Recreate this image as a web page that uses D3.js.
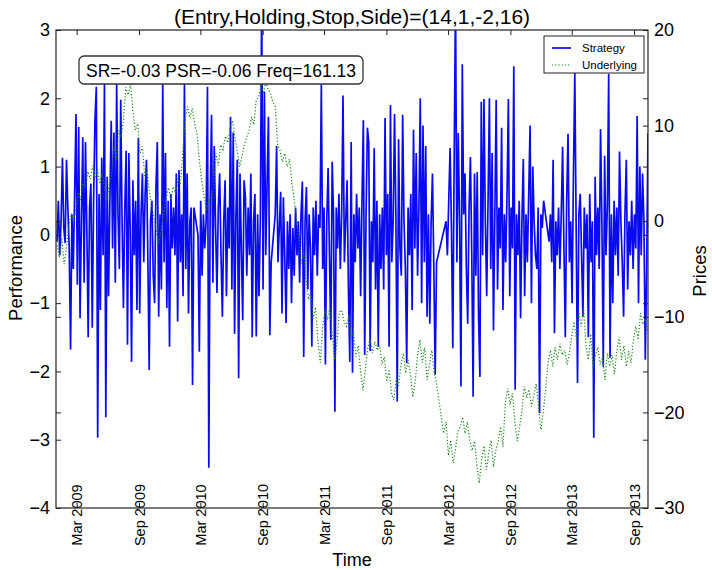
<!DOCTYPE html>
<html><head><meta charset="utf-8">
<script src="https://cdn.jsdelivr.net/npm/d3@7"></script>
<style>
body{margin:0;background:#fff;}
svg{display:block;}
text{font-family:"Liberation Sans",Arial,Helvetica,sans-serif;fill:#000;}
</style>
</head><body>
<svg id="c" width="712" height="570"></svg>
<script>
const title = "(Entry,Holding,Stop,Side)=(14,1,-2,16)";
const annotation = "SR=-0.03 PSR=-0.06 Freq=161.13";
const seriesNames = ["Strategy", "Underlying"];
const xLabel = "Time", yLeftLabel = "Performance", yRightLabel = "Prices";
const xDomain = ["2008-12-30", "2013-10-12"];
const xTickMonths = ["2009-03-01","2009-09-01","2010-03-01","2010-09-01","2011-03-01","2011-09-01","2012-03-01","2012-09-01","2013-03-01","2013-09-01"];
const leftDomain = [-4, 3];
const leftTicks = [-4, -3, -2, -1, 0, 1, 2, 3];
const rightDomain = [-30, 20];
const rightTicks = [-30, -20, -10, 0, 10, 20];

// Strategy performance, one observation every 4 days (null = no observation)
const strategyStart = "2009-01-02", strategyStepDays = 4;
const strategyValues = [
-0.1,0.5,-0.3,0.2,1.13,0.1,-0.12,1.1,0.4,-0.2,
-1.68,0.3,-0.5,0.6,1.77,-0.73,1.58,-1.22,0.2,1.43,
-0.7,1.36,0.1,-1.5,0.4,0.75,-1.36,0.5,1.68,2.17,
-2.97,0.6,-1.1,1.13,-0.3,2.22,-2.67,0.85,-0.9,0.5,
1.67,-0.2,1.5,-0.7,2.22,0.3,-0.5,1.98,0.2,-1.07,
0.4,1.23,-1.61,1.2,0.1,-1.86,0.8,-0.3,0.5,-1.1,
1.42,-1.15,0.3,0.9,-0.4,0.6,1.1,-0.3,-1.98,0.2,
0.5,-0.6,-1.0,0.7,1.36,-1.2,0.3,-0.8,2.22,-0.4,
1.2,-1.07,0.5,-1.64,0.6,-0.2,0.4,-0.3,0.9,-1.27,
0.95,-0.4,0.3,-0.9,2.22,-0.5,0.9,-1.15,0.2,0.4,
-2.2,0.4,null,null,0.0,-1.71,0.5,-0.6,0.3,-0.2,
0.2,2.17,-3.41,0.5,1.76,-0.7,1.3,0.1,-0.85,0.4,
0.9,-0.3,-1.2,0.2,0.8,-0.9,0.4,-0.2,1.73,-0.8,
1.5,-1.45,0.3,1.1,-2.1,0.9,-0.2,-1.25,0.8,0.55,
-0.6,0.4,-0.3,0.9,-1.5,0.2,0.6,-1.49,0.3,-0.9,
0.2,3.5,-0.8,2.1,-0.3,0.8,1.73,-1.47,-0.4,null,
null,0.3,1.3,-0.4,0.1,0.63,-1.15,0.55,-0.3,-1.29,
0.2,-0.5,0.3,-1.0,0.1,-0.6,0.4,-0.3,0.2,-0.7,
0.3,0.78,-1.79,0.2,0.7,-0.8,0.3,-0.2,-1.64,0.4,
-0.3,0.5,-0.6,0.3,0.1,2.2,-0.5,0.4,-1.9,0.2,
0.98,-0.3,-1.54,1.07,0.3,-2.59,0.4,-0.2,0.6,-0.5,
0.3,2.04,-0.4,0.2,0.8,-0.8,-1.86,1.36,-2.02,0.3,
-0.4,0.6,-0.2,0.4,-0.9,0.5,1.68,-1.76,0.3,1.57,
1.35,-1.7,0.2,-0.4,1.27,-0.8,0.5,-1.64,0.3,-0.5,
0.4,-0.8,1.71,-0.3,0.6,-1.64,1.9,-0.4,0.2,1.77,
0.3,-2.44,1.4,-0.2,-0.6,1.76,0.2,-0.5,-1.88,0.4,
-0.3,0.6,-1.1,1.54,-0.2,1.2,-0.6,0.4,2.0,-1.0,
1.6,-0.4,1.3,-1.2,0.3,-1.3,0.2,0.9,-0.5,-2.05,
-0.4,null,null,null,null,null,null,0.2,-0.3,0.5,
1.27,0.1,-1.66,1.1,3.5,-0.4,1.49,0.2,-2.22,2.5,
0.3,0.9,-0.5,-1.3,0.4,1.14,-0.3,-2.37,0.9,-0.6,
0.92,-1.2,-2.08,1.95,-0.3,1.99,0.2,-0.9,0.5,2.0,
-0.5,1.2,-1.4,0.3,1.98,-0.8,0.4,-0.2,1.57,-1.1,
0.3,-0.4,0.6,1.99,-0.9,0.4,-0.2,2.47,-2.27,0.3,
-0.3,0.5,-1.22,0.2,1.11,-0.9,0.3,-0.4,0.6,1.6,
-1.0,1.0,0.2,-0.3,-0.5,0.4,-2.61,0.3,0.1,0.5,
null,null,null,-0.1,0.3,-0.4,1.1,-1.44,0.2,-0.3,
0.4,-0.5,0.3,1.29,-0.2,-1.5,0.5,1.48,-0.4,0.2,
-1.0,0.9,2.37,0.1,-2.17,0.3,0.6,-0.3,-1.2,0.4,
-0.2,0.3,-1.5,0.6,-0.4,0.2,-2.97,0.85,-0.3,0.4,
-0.5,1.55,0.2,-1.93,1.16,-0.3,0.4,2.36,-1.8,0.3,
-1.0,0.5,-0.3,0.4,-0.6,1.22,0.2,-0.4,-1.2,0.3,
1.1,-0.8,0.2,-0.3,0.5,-0.5,0.3,-0.2,1.74,-1.0,
1.0,-0.3,0.9,0.2,-1.83,-0.5,1.49
];

// Underlying prices, one observation every 7 days
const underlyingStart = "2009-01-02", underlyingStepDays = 7;
const underlyingValues = [
-2.5,-3.8,-1.8,-4.5,-2.6,-0.5,0.8,-0.2,1.5,3.0,
2.2,4.0,3.5,5.2,4.4,5.8,4.6,5.5,3.9,5.0,
3.5,2.2,3.8,4.8,7.8,6.5,9.5,8.8,10.6,14.0,
13.2,14.3,11.5,9.5,10.2,7.1,7.8,4.6,5.3,2.9,
1.5,0.2,-1.2,-2.3,-0.6,0.8,2.4,3.5,2.2,3.6,
2.8,4.5,3.8,7.2,10.6,12.0,10.8,11.8,10.2,9.2,
6.4,4.3,2.5,1.2,2.2,1.5,3.5,7.1,5.8,8.0,
7.5,8.9,8.2,9.8,10.5,8.8,7.3,5.7,6.8,8.0,
8.8,9.5,10.9,10.1,12.7,13.0,14.1,13.5,14.5,13.8,
13.4,12.5,12.0,8.0,7.4,6.2,7.1,5.7,6.5,4.0,
2.2,0.3,-2.0,-4.4,-3.2,-6.0,-8.2,-7.5,-10.2,-9.0,
-12.5,-14.8,-11.0,-9.2,-10.3,-9.0,-11.8,-14.5,-12.8,-9.5,
-9.3,-10.5,-11.0,-9.8,-12.2,-11.7,-14.2,-13.0,-15.8,-17.7,
-15.5,-13.2,-12.4,-13.8,-12.6,-13.5,-13.0,-15.0,-14.2,-16.8,
-15.5,-18.0,-18.7,-16.5,-17.2,-15.0,-13.8,-15.9,-14.5,-16.0,
-18.4,-16.8,-14.0,-12.4,-14.8,-13.2,-16.6,-15.0,-13.5,-15.9,
-17.0,-18.7,-20.5,-22.2,-21.0,-24.5,-22.9,-25.3,-23.8,-22.0,
-21.5,-20.5,-22.2,-21.0,-22.9,-24.0,-23.0,-25.5,-27.4,-25.0,
-23.5,-26.0,-24.2,-22.9,-25.7,-24.0,-23.0,-21.5,-23.6,-19.0,
-17.5,-19.2,-18.0,-21.0,-23.0,-21.5,-19.8,-17.3,-18.5,-17.6,
-19.4,-18.2,-17.0,-19.5,-21.8,-20.0,-17.5,-14.8,-13.5,-15.2,
-13.2,-14.5,-12.8,-14.0,-13.5,-15.0,-13.8,-12.0,-10.5,-12.5,
-9.5,-11.0,-9.0,-13.0,-14.5,-11.8,-15.5,-14.0,-13.2,-15.0,
-14.2,-16.6,-13.8,-15.2,-14.0,-16.0,-13.5,-12.1,-14.5,-13.0,
-15.2,-13.6,-14.8,-12.4,-11.0,-12.4,-9.6,-10.8,-10.2,-11.5
];

const colors = {strategy: "#0a0af0", underlying: "#1a8a1a"};

const svg = d3.select("#c");
const L = 56, R = 648, T = 30, B = 508;
const parse = s => new Date(s + "T00:00:00Z");

const x = d3.scaleUtc().domain(xDomain.map(parse)).range([L, R]);
const yL = d3.scaleLinear().domain(leftDomain).range([B, T]);
const yR = d3.scaleLinear().domain(rightDomain).range([B, T]);

const sStart = parse(strategyStart), uStart = parse(underlyingStart);
const strategy = strategyValues.map((v, i) => ({date: d3.utcDay.offset(sStart, i * strategyStepDays), v}))
  .filter(d => d.v !== null);
const underlying = underlyingValues.map((v, i) => ({date: d3.utcDay.offset(uStart, i * underlyingStepDays), v}));

svg.append("defs").append("clipPath").attr("id", "clip")
  .append("rect").attr("x", L).attr("y", T).attr("width", R - L).attr("height", B - T);

const plot = svg.append("g").attr("clip-path", "url(#clip)");
plot.append("path").datum(strategy)
  .attr("fill", "none").attr("stroke", colors.strategy).attr("stroke-width", 1.7)
  .attr("stroke-linejoin", "miter")
  .attr("d", d3.line().x(d => x(d.date)).y(d => yL(d.v)));
plot.append("path").datum(underlying)
  .attr("fill", "none").attr("stroke", colors.underlying).attr("stroke-width", 1.2)
  .attr("stroke-dasharray", "1.2,2")
  .attr("d", d3.line().x(d => x(d.date)).y(d => yR(d.v)));

const fontSize = 18;
function styleAxis(g) {
  g.attr("font-family", null).attr("font-size", null);
  g.select(".domain").remove();
  g.selectAll(".tick line").attr("stroke", "#222").attr("stroke-width", 1);
  g.selectAll("text").style("font-size", fontSize + "px");
}
const intFmt = d3.format("d");
const xTicks = xTickMonths.map(parse);
// left axis with labels + mirrored right-axis ticks on the left
svg.append("g").attr("transform", `translate(${L},0)`)
  .call(d3.axisLeft(yL).tickValues(leftTicks).tickFormat(intFmt).tickSize(-5).tickPadding(6)).call(styleAxis);
svg.append("g").attr("transform", `translate(${L},0)`)
  .call(d3.axisLeft(yR).tickValues(rightTicks).tickSize(-5).tickFormat(""))
  .call(styleAxis);
// right axis with labels + mirrored left ticks
svg.append("g").attr("transform", `translate(${R},0)`)
  .call(d3.axisRight(yR).tickValues(rightTicks).tickFormat(intFmt).tickSize(-5).tickPadding(6)).call(styleAxis);
svg.append("g").attr("transform", `translate(${R},0)`)
  .call(d3.axisRight(yL).tickValues(leftTicks).tickSize(-5).tickFormat(""))
  .call(styleAxis);
// top ticks
svg.append("g").attr("transform", `translate(0,${T})`)
  .call(d3.axisTop(x).tickValues(xTicks).tickSize(-5).tickFormat("")).call(styleAxis);
// bottom axis
const gx = svg.append("g").attr("transform", `translate(0,${B})`)
  .call(d3.axisBottom(x).tickValues(xTicks).tickSize(-5).tickFormat(d3.utcFormat("%b %Y")))
  .call(styleAxis);
gx.selectAll(".tick text")
  .attr("x", 0).attr("y", 0).attr("dy", "0.35em")
  .attr("transform", "translate(0,7) rotate(-90)")
  .style("text-anchor", "middle").style("font-size", "14.5px");

// frame
svg.append("rect").attr("x", L).attr("y", T).attr("width", R - L).attr("height", B - T)
  .attr("fill", "none").attr("stroke", "#222").attr("stroke-width", 1.2);

// title and labels
svg.append("text").attr("x", (L + R) / 2).attr("y", 24).attr("text-anchor", "middle")
  .style("font-size", "21px").text(title);
svg.append("text").attr("x", (L + R) / 2).attr("y", 566).attr("text-anchor", "middle")
  .style("font-size", "18px").text(xLabel);
svg.append("text").attr("transform", "translate(22,268) rotate(-90)").attr("text-anchor", "middle")
  .style("font-size", "18.5px").text(yLeftLabel);
svg.append("text").attr("transform", "translate(706,271) rotate(-90)").attr("text-anchor", "middle")
  .style("font-size", "18.5px").text(yRightLabel);

// annotation box
const ann = svg.append("g");
ann.append("rect").attr("x", 79).attr("y", 56).attr("width", 284).attr("height", 28).attr("rx", 5)
  .attr("fill", "#fff").attr("stroke", "#333").attr("stroke-width", 1.3);
ann.append("text").attr("x", 86).attr("y", 77).style("font-size", "17.5px").text(annotation);

// legend
const lg = svg.append("g");
lg.append("rect").attr("x", 544).attr("y", 36).attr("width", 100).attr("height", 37)
  .attr("fill", "#fff").attr("stroke", "#222").attr("stroke-width", 1);
lg.append("line").attr("x1", 552).attr("x2", 571).attr("y1", 48).attr("y2", 48)
  .attr("stroke", colors.strategy).attr("stroke-width", 1.7);
lg.append("line").attr("x1", 552).attr("x2", 571).attr("y1", 65).attr("y2", 65)
  .attr("stroke", colors.underlying).attr("stroke-width", 1.2).attr("stroke-dasharray", "1.2,2");
lg.append("text").attr("x", 582).attr("y", 52).style("font-size", "11.5px").text(seriesNames[0]);
lg.append("text").attr("x", 582).attr("y", 69).style("font-size", "11.5px").text(seriesNames[1]);
</script>
</body></html>
